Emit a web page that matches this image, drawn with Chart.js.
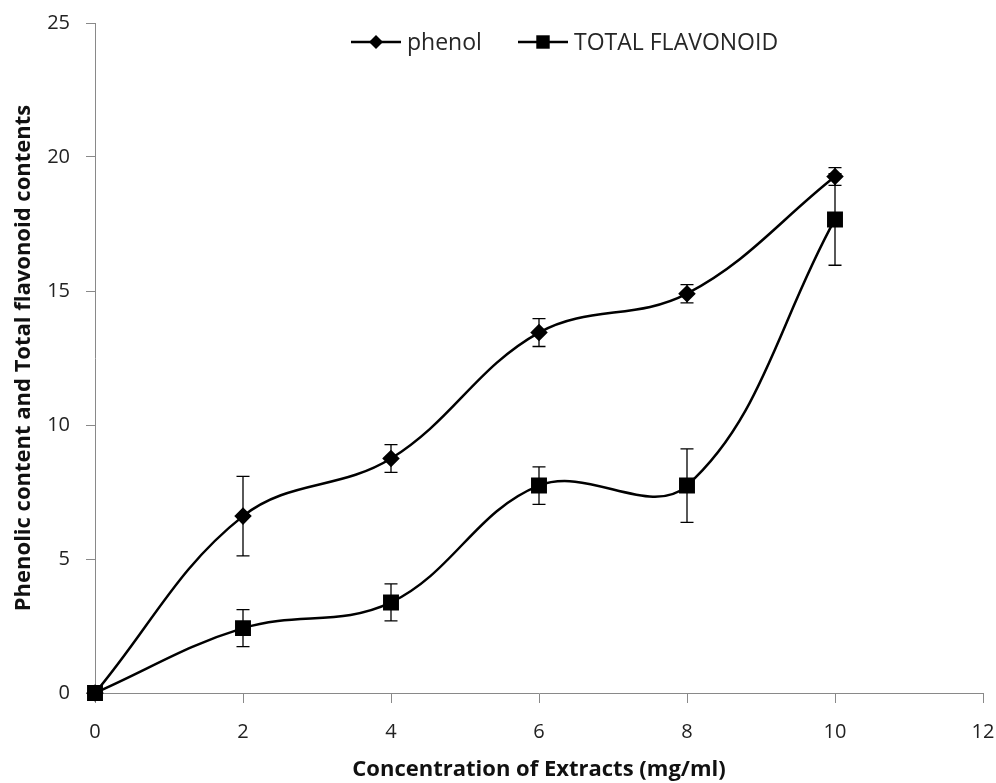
<!DOCTYPE html>
<html lang="en">
<head>
  <meta charset="UTF-8">
  <title>Phenolic and flavonoid content</title>
  <script src="https://cdn.jsdelivr.net/npm/chart.js"></script>
  <style>
    body {
      margin: 0;
      background: #fff;
    }
    canvas {
      display: block;
    }
  </style>
</head>
<body>

<canvas id="contentChart" width="996" height="783"></canvas>

<script>
  // values
  const concentrations = [0, 2, 4, 6, 8, 10];
  const phenol = [0, 6.6, 8.75, 13.45, 14.9, 19.27];
  const phenolErr = [0, 1.48, 0.52, 0.52, 0.34, 0.33];
  const flavonoid = [0, 2.42, 3.38, 7.74, 7.74, 17.67];
  const flavonoidErr = [0, 0.69, 0.69, 0.7, 1.37, 1.71];
  const xTicks = [0, 2, 4, 6, 8, 10, 12];
  const yTicks = [0, 5, 10, 15, 20, 25];

  const FONT = "'Open Sans', sans-serif";
  const AXIS_GRAY = '#898989';

  const toPoints = (xs, ys) => xs.map((x, i) => ({ x: x, y: ys[i] }));

  // error bars, drawn under the lines and markers
  const errorBars = {
    id: 'errorBars',
    beforeDatasetsDraw(chart) {
      const ctx = chart.ctx;
      const yScale = chart.scales.y;
      ctx.save();
      ctx.strokeStyle = '#000';
      ctx.lineWidth = 1.3;
      chart.data.datasets.forEach((ds, di) => {
        const meta = chart.getDatasetMeta(di);
        meta.data.forEach((pt, i) => {
          const e = ds.errors[i];
          if (!e) return;
          const v = ds.data[i].y;
          const top = yScale.getPixelForValue(v + e);
          const bot = yScale.getPixelForValue(v - e);
          const x = pt.x;
          ctx.beginPath();
          ctx.moveTo(x, top); ctx.lineTo(x, bot);
          ctx.moveTo(x - 6.5, top); ctx.lineTo(x + 6.5, top);
          ctx.moveTo(x - 6.5, bot); ctx.lineTo(x + 6.5, bot);
          ctx.stroke();
        });
      });
      ctx.restore();
    }
  };

  function drawMarker(ctx, style, x, y, r) {
    ctx.beginPath();
    if (style === 'rectRot') {
      ctx.moveTo(x, y - r); ctx.lineTo(x + r, y); ctx.lineTo(x, y + r); ctx.lineTo(x - r, y);
      ctx.closePath();
    } else {
      const s = r * Math.SQRT1_2;
      ctx.rect(x - s, y - s, 2 * s, 2 * s);
    }
    ctx.fill();
  }

  // legend with a short line and the marker, sitting inside the plot like the original
  const lineLegend = {
    id: 'lineLegend',
    afterDraw(chart) {
      const ctx = chart.ctx;
      const starts = [351, 518];
      const y = 42;
      ctx.save();
      ctx.font = '23px ' + FONT;
      ctx.textBaseline = 'middle';
      chart.data.datasets.forEach((ds, i) => {
        const x0 = starts[i];
        ctx.strokeStyle = '#000';
        ctx.fillStyle = '#000';
        ctx.lineWidth = 2.5;
        ctx.beginPath();
        ctx.moveTo(x0, y); ctx.lineTo(x0 + 50, y);
        ctx.stroke();
        drawMarker(ctx, ds.pointStyle, x0 + 25, y, ds.pointRadius);
        ctx.fillStyle = '#262626';
        ctx.fillText(ds.label, x0 + 56, y + 1);
      });
      ctx.restore();
    }
  };

  const ctx = document.getElementById('contentChart').getContext('2d');

  new Chart(ctx, {
    type: 'line',
    data: {
      datasets: [{
        label: 'phenol',
        data: toPoints(concentrations, phenol),
        errors: phenolErr,
        borderColor: '#000',
        backgroundColor: '#000',
        borderWidth: 2.5,
        pointStyle: 'rectRot',
        pointRadius: 7,
        pointHoverRadius: 7,
        tension: 0.38,
        clip: false
      }, {
        label: 'TOTAL FLAVONOID',
        data: toPoints(concentrations, flavonoid),
        errors: flavonoidErr,
        borderColor: '#000',
        backgroundColor: '#000',
        borderWidth: 2.5,
        pointStyle: 'rect',
        pointRadius: 9.5,
        pointHoverRadius: 9.5,
        tension: 0.38,
        clip: false
      }]
    },
    options: {
      responsive: false,
      animation: false,
      layout: {
        autoPadding: false,
        padding: { top: 23, right: 13, left: 0, bottom: 0 }
      },
      plugins: {
        legend: { display: false },
        tooltip: { enabled: false }
      },
      scales: {
        x: {
          type: 'linear',
          min: 0,
          max: 12,
          afterFit: scale => {
            scale.height = 90;
            scale.paddingLeft = 0;
            scale.paddingRight = 0;
          },
          afterBuildTicks: scale => { scale.ticks = xTicks.map(v => ({ value: v })); },
          ticks: {
            padding: 17,
            color: '#222',
            font: { family: FONT, size: 20 }
          },
          grid: {
            drawOnChartArea: false,
            drawTicks: true,
            tickLength: 10,
            color: AXIS_GRAY
          },
          border: { display: true, color: AXIS_GRAY, width: 1 },
          title: {
            display: true,
            text: 'Concentration of Extracts (mg/ml)',
            color: '#111',
            padding: { top: 0, bottom: 0 },
            font: { family: FONT, size: 22, weight: 'bold' }
          }
        },
        y: {
          type: 'linear',
          min: 0,
          max: 25,
          afterFit: scale => {
            scale.width = 95;
            scale.paddingTop = 0;
            scale.paddingBottom = 0;
          },
          afterBuildTicks: scale => { scale.ticks = yTicks.map(v => ({ value: v })); },
          ticks: {
            padding: 16,
            color: '#222',
            font: { family: FONT, size: 20 }
          },
          grid: {
            drawOnChartArea: false,
            drawTicks: true,
            tickLength: 9,
            color: AXIS_GRAY
          },
          border: { display: true, color: AXIS_GRAY, width: 1 },
          title: {
            display: true,
            text: 'Phenolic content and Total flavonoid contents',
            color: '#111',
            padding: { top: 11, bottom: 0 },
            font: { family: FONT, size: 22, weight: 'bold' }
          }
        }
      }
    },
    plugins: [errorBars, lineLegend]
  });
</script>

</body>
</html>
